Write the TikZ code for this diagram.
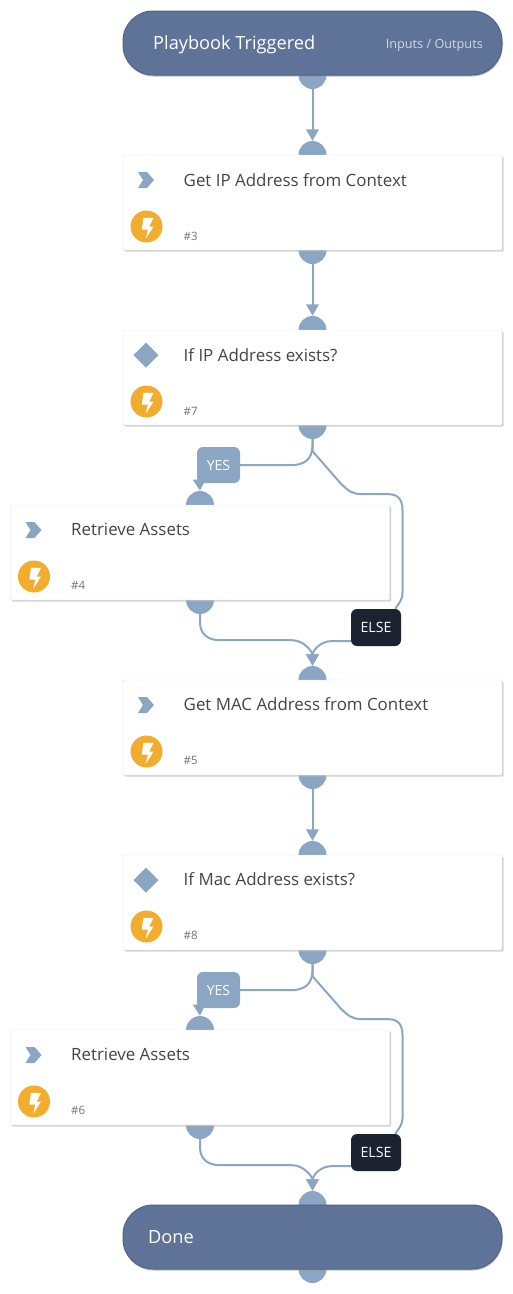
\documentclass[tikz,border=0pt]{standalone}
\usepackage{fontspec}
\setmainfont{Open Sans}
\usetikzlibrary{arrows.meta,backgrounds,shadows}
\definecolor{portblue}{HTML}{8AA6C3}
\definecolor{pillblue}{HTML}{5F7399}
\definecolor{pilledge}{HTML}{4F6386}
\definecolor{elsedark}{HTML}{1B2331}
\definecolor{boltorange}{HTML}{F2AC2E}
\definecolor{titlegray}{HTML}{444444}
\tikzset{
    card/.style={draw=black!12, fill=white, minimum width=379, minimum height=95, inner sep=0, rounded corners=1,
        drop shadow={shadow xshift=1.5, shadow yshift=1.5, fill=black!30, opacity=.6}},
    pill/.style={draw=pilledge, line width=1, fill=pillblue, minimum width=379, minimum height=64, inner sep=0, rounded corners=30,
        drop shadow={shadow xshift=.5, shadow yshift=1.5, fill=black!40, opacity=.6}},
    port/.style={circle, fill=portblue, minimum size=28, inner sep=0},
    title/.style={anchor=base west, inner sep=0, text=titlegray, font=\fontsize{16.9}{19}\selectfont},
    tasknum/.style={anchor=base west, inner sep=0, text=black!55, font=\fontsize{11.5}{14}\selectfont},
    pilltext/.style={anchor=base west, inner sep=0, text=white, font=\fontsize{18.2}{21}\selectfont},
    yesbox/.style={fill=portblue, rounded corners=6, minimum width=43, minimum height=36, inner sep=0, text=white, font=\fontsize{14}{16}\selectfont},
    elsebox/.style={fill=elsedark, rounded corners=6, minimum width=50, minimum height=37, inner sep=0, text=white, font=\fontsize{14.2}{16}\selectfont},
    wire/.style={draw=portblue, line width=2},
    link/.style={wire, -{Triangle[width=12.5pt,length=11.5pt]}},
    chevron/.pic={\fill[portblue] (-8,-8) -- (1,-8) -- (8,0) -- (1,8) -- (-8,8) -- (-3,0) -- cycle;},
    gate/.pic={\fill[portblue] (-12.5,0) -- (0,-12.5) -- (12.5,0) -- (0,12.5) -- cycle;},
    bolt/.pic={\fill[boltorange] (0,0) circle (16);
        \fill[white] (-3,-8.7) -- (7,-8.7) -- (2.7,0) -- (7,0) -- (-.7,12.3) -- (1.3,3) -- (-4.7,3) -- cycle;},
}
\begin{document}
\begin{tikzpicture}[x=1pt, y=-1pt]
    \useasboundingbox (0,0) rectangle (512,1294);

    % trigger
    \node[pill] (start) at (312.5,43) {};
    \node[pilltext] (starttext) at (153,49) {Playbook Triggered};
    \node[anchor=base east, inner sep=0, text=white!72!pillblue, font=\fontsize{12.7}{15}\selectfont] (startio) at (483,48) {Inputs / Outputs};

    % tasks
    \node[card] (task3) at (312.5,202.5) {};
    \pic at (146,180) {chevron};
    \pic at (146.5,226.5) {bolt};
    \node[title] (title3) at (183.5,186) {Get IP Address from Context};
    \node[tasknum] (num3) at (183.5,240) {\#3};

    \node[card] (task7) at (312.5,377.5) {};
    \pic at (146,355) {gate};
    \pic at (146.5,401.5) {bolt};
    \node[title] (title7) at (183.5,361) {If IP Address exists?};
    \node[tasknum] (num7) at (183.5,415) {\#7};

    \node[card] (task4) at (200,552.5) {};
    \pic at (33.5,530) {chevron};
    \pic at (34,576.5) {bolt};
    \node[title] (title4) at (71,535) {Retrieve Assets};
    \node[tasknum] (num4) at (71,589) {\#4};

    \node[card] (task5) at (312.5,727.5) {};
    \pic at (146,705) {chevron};
    \pic at (146.5,751.5) {bolt};
    \node[title] (title5) at (183.5,710) {Get MAC Address from Context};
    \node[tasknum] (num5) at (183.5,764) {\#5};

    \node[card] (task8) at (312.5,902.5) {};
    \pic at (146,880) {gate};
    \pic at (146.5,926.5) {bolt};
    \node[title] (title8) at (183.5,885) {If Mac Address exists?};
    \node[tasknum] (num8) at (183.5,939) {\#8};

    \node[card] (task6) at (200,1077.5) {};
    \pic at (33.5,1055) {chevron};
    \pic at (34,1101.5) {bolt};
    \node[title] (title6) at (71,1060) {Retrieve Assets};
    \node[tasknum] (num6) at (71,1114) {\#6};

    % done
    \node[pill] (done) at (312.5,1237) {};
    \node[pilltext] (donetext) at (148,1243) {Done};

    % conditions
    \node[yesbox] (yes7) at (218.5,465) {YES};
    \node[elsebox] (else7) at (376,627.5) {ELSE};
    \node[yesbox] (yes8) at (218.5,990) {YES};
    \node[elsebox] (else8) at (376,1152.5) {ELSE};

    \begin{scope}[on background layer]
        \node[port] (out1) at (312.5,75) {};
        \node[port] (in3) at (312.5,155) {};
        \node[port] (out3) at (312.5,250) {};
        \node[port] (in7) at (312.5,330) {};
        \node[port] (out7) at (312.5,425) {};
        \node[port] (in4) at (200,505) {};
        \node[port] (out4) at (200,600) {};
        \node[port] (in5) at (312.5,680) {};
        \node[port] (out5) at (312.5,775) {};
        \node[port] (in8) at (312.5,855) {};
        \node[port] (out8) at (312.5,950) {};
        \node[port] (in6) at (200,1030) {};
        \node[port] (out6) at (200,1125) {};
        \node[port] (in9) at (312.5,1205) {};
        \node[port] (out9) at (312.5,1269) {};

        \draw[link] (out1.south) -- (in3.north);
        \draw[link] (out3.south) -- (in7.north);
        \draw[link] (out5.south) -- (in8.north);

        % first branch
        \draw[wire] (out7.south) -- ++(0,6) .. controls +(0,14) and +(14,0) .. ++(-22,20) -- (yes7.east);
        \draw[link] ([xshift=-20]yes7.center) -- (in4.north);
        \draw[wire] (out7.south) -- ++(0,12) -- ++(28,32) .. controls +(8,8) and +(-10,0) .. ++(22,11) -- ++(26,0)
            .. controls +(10,0) and +(0,-10) .. ++(14,16) -- ++(0,82) .. controls +(0,8) and +(4,-6) .. ([xshift=-6]else7.north east);
        \draw[link] (out4.south) -- ++(0,8) .. controls +(0,12) and +(-12,0) .. ++(20,18) -- ++(72,0)
            .. controls +(12,0) and +(0,-14) .. (in5.north);
        \draw[link] (else7.west |- 312.5,641) -- ++(-18,0) .. controls +(-14,0) and +(0,-14) .. (in5.north);

        % second branch
        \draw[wire] (out8.south) -- ++(0,6) .. controls +(0,14) and +(14,0) .. ++(-22,20) -- (yes8.east);
        \draw[link] ([xshift=-20]yes8.center) -- (in6.north);
        \draw[wire] (out8.south) -- ++(0,12) -- ++(28,32) .. controls +(8,8) and +(-10,0) .. ++(22,11) -- ++(26,0)
            .. controls +(10,0) and +(0,-10) .. ++(14,16) -- ++(0,82) .. controls +(0,8) and +(4,-6) .. ([xshift=-6]else8.north east);
        \draw[link] (out6.south) -- ++(0,8) .. controls +(0,12) and +(-12,0) .. ++(20,18) -- ++(72,0)
            .. controls +(12,0) and +(0,-14) .. (in9.north);
        \draw[link] (else8.west |- 312.5,1166) -- ++(-18,0) .. controls +(-14,0) and +(0,-14) .. (in9.north);
    \end{scope}
\end{tikzpicture}
\end{document}
